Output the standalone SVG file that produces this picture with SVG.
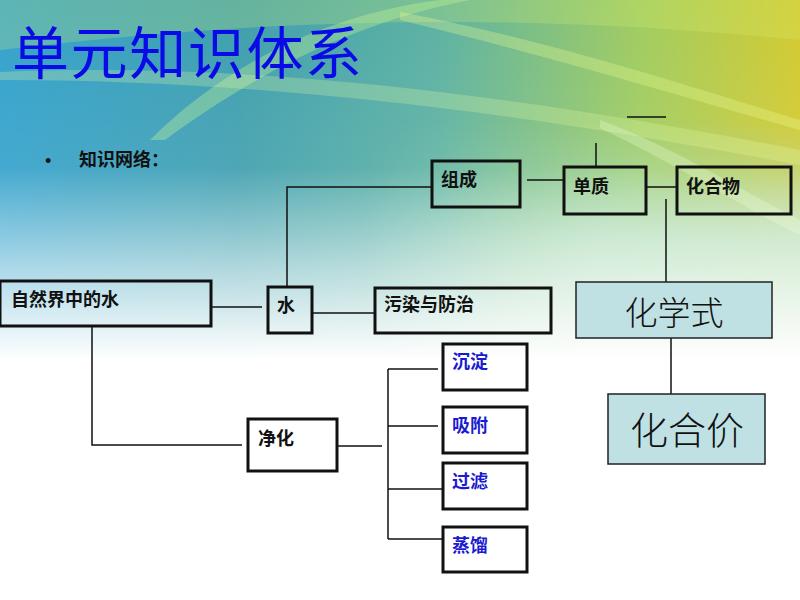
<svg xmlns="http://www.w3.org/2000/svg" width="800" height="600" viewBox="0 0 800 600">
<defs>
<linearGradient id="bgH" x1="0" y1="0" x2="1" y2="0">
<stop offset="0" stop-color="#34a2cc"/>
<stop offset="0.3" stop-color="#3f9fae"/>
<stop offset="0.55" stop-color="#5db2a2"/>
<stop offset="0.8" stop-color="#a0cc60"/>
<stop offset="1" stop-color="#d2ca30"/>
</linearGradient>
<linearGradient id="rightV" x1="0" y1="0" x2="0" y2="1">
<stop offset="0" stop-color="#a8dcc0" stop-opacity="0"/>
<stop offset="0.2" stop-color="#a8dcc0" stop-opacity="0"/>
<stop offset="0.4" stop-color="#a8dcc0" stop-opacity="0.85"/>
<stop offset="1" stop-color="#a8dcc0" stop-opacity="0.85"/>
</linearGradient>
<linearGradient id="maskH" x1="0" y1="0" x2="1" y2="0">
<stop offset="0" stop-color="#000"/>
<stop offset="0.45" stop-color="#000"/>
<stop offset="0.75" stop-color="#fff"/>
<stop offset="1" stop-color="#fff"/>
</linearGradient>
<mask id="rm"><rect width="800" height="600" fill="url(#maskH)"/></mask>
<linearGradient id="bgV" x1="0" y1="0" x2="0" y2="1">
<stop offset="0" stop-color="#ffffff" stop-opacity="0"/>
<stop offset="0.28" stop-color="#ffffff" stop-opacity="0.08"/>
<stop offset="0.45" stop-color="#ffffff" stop-opacity="0.6"/>
<stop offset="0.6" stop-color="#ffffff" stop-opacity="1"/>
<stop offset="1" stop-color="#ffffff" stop-opacity="1"/>
</linearGradient>
<style>
.box{fill:none;stroke:#111;stroke-width:3}
.pale{fill:#bfe1e3;stroke:#222;stroke-width:1.5}
.con{stroke:#111;stroke-width:1.5;fill:none}
.t{font-family:"Noto Sans CJK SC","Noto Sans",sans-serif;font-weight:bold;font-size:18px;fill:#111}
.b{fill:#1a1ad0}
.big{font-family:"Noto Sans CJK SC","Noto Sans",sans-serif;font-weight:300;fill:#111}
</style>
</defs>
<g id="background">
<rect width="800" height="600" fill="url(#bgH)"/>
<rect width="800" height="600" fill="url(#rightV)" mask="url(#rm)"/>
<path d="M0,50 C250,20 500,10 800,40 L800,0 L0,0 Z" fill="#d8ef70" opacity="0.25"/>
<path d="M150,140 C220,70 320,15 440,0 L470,0 C340,25 240,85 165,140 Z" fill="#c8f890" opacity="0.35"/>
<path d="M0,72 C250,62 500,92 800,150 L800,165 C500,108 250,80 0,80 Z" fill="#e8ffa0" opacity="0.25"/>
<path d="M400,12 C550,40 700,90 800,120 L800,130 C700,102 550,56 400,20 Z" fill="#f0ff90" opacity="0.3"/>
<path d="M600,120 C680,150 740,190 800,220 L800,235 C740,206 680,166 600,128 Z" fill="#e8ffd0" opacity="0.3"/>
<rect width="800" height="600" fill="url(#bgV)"/>
</g>
<g id="title">
<text x="12" y="74" font-family="Noto Sans CJK SC,sans-serif" font-size="57" fill="#0a0ae6" textLength="350">单元知识体系</text>
<text x="45" y="167" font-family="Liberation Sans,sans-serif" font-size="18" fill="#111">•</text>
<text x="79" y="166" class="t" font-size="19">知识网络：</text>
</g>
<g id="connectors">
<line class="con" x1="627" y1="117" x2="666" y2="117"/>
<line class="con" x1="596" y1="143" x2="596" y2="167"/>
<line class="con" x1="527" y1="180" x2="563" y2="180"/>
<line class="con" x1="646" y1="187" x2="677" y2="187"/>
<line class="con" x1="666" y1="199" x2="666" y2="282"/>
<line class="con" x1="671" y1="338" x2="671" y2="394"/>
<polyline class="con" points="287,287 287,187 431,187"/>
<line class="con" x1="211" y1="307" x2="262" y2="307"/>
<line class="con" x1="312" y1="313" x2="374" y2="313"/>
<polyline class="con" points="92,326 92,445 242,445"/>
<line class="con" x1="337" y1="446" x2="382" y2="446"/>
<line class="con" x1="388" y1="369" x2="388" y2="539"/>
<line class="con" x1="388" y1="369" x2="438" y2="369"/>
<line class="con" x1="388" y1="426" x2="438" y2="426"/>
<line class="con" x1="388" y1="489" x2="443" y2="489"/>
<line class="con" x1="388" y1="539" x2="443" y2="539"/>
</g>
<g id="n-zucheng"><rect class="box" x="432" y="161" width="88" height="46"/><text class="t" x="441" y="186">组成</text></g>
<g id="n-danzhi"><rect class="box" x="564" y="167" width="82" height="47"/><text class="t" x="573" y="193">单质</text></g>
<g id="n-huahewu"><rect class="box" x="677" y="167" width="114" height="47"/><text class="t" x="686" y="193">化合物</text></g>
<g id="n-ziran"><rect class="box" x="0" y="281" width="211" height="45"/><text class="t" x="11" y="306" font-size="19.5">自然界中的水</text></g>
<g id="n-shui"><rect class="box" x="268" y="287" width="44" height="46"/><text class="t" x="277" y="312">水</text></g>
<g id="n-wuran"><rect class="box" x="375" y="288" width="176" height="45"/><text class="t" x="384" y="311">污染与防治</text></g>
<g id="n-huaxueshi"><rect class="pale" x="576" y="282" width="196" height="56"/><text class="big" x="674" y="325" font-size="33" text-anchor="middle">化学式</text></g>
<g id="n-huahejia"><rect class="pale" x="608" y="394" width="157" height="70"/><text class="big" x="687" y="444" font-size="38" text-anchor="middle">化合价</text></g>
<g id="n-jinghua"><rect class="box" x="248" y="419" width="89" height="52"/><text class="t" x="258" y="445">净化</text></g>
<g id="n-chendian"><rect class="box" x="443" y="344" width="84" height="46"/><text class="t b" x="452" y="368">沉淀</text></g>
<g id="n-xifu"><rect class="box" x="443" y="407" width="84" height="46"/><text class="t b" x="452" y="432">吸附</text></g>
<g id="n-guolv"><rect class="box" x="443" y="463" width="84" height="46"/><text class="t b" x="452" y="488">过滤</text></g>
<g id="n-zhengliu"><rect class="box" x="443" y="527" width="84" height="45"/><text class="t b" x="452" y="552">蒸馏</text></g>
</svg>
